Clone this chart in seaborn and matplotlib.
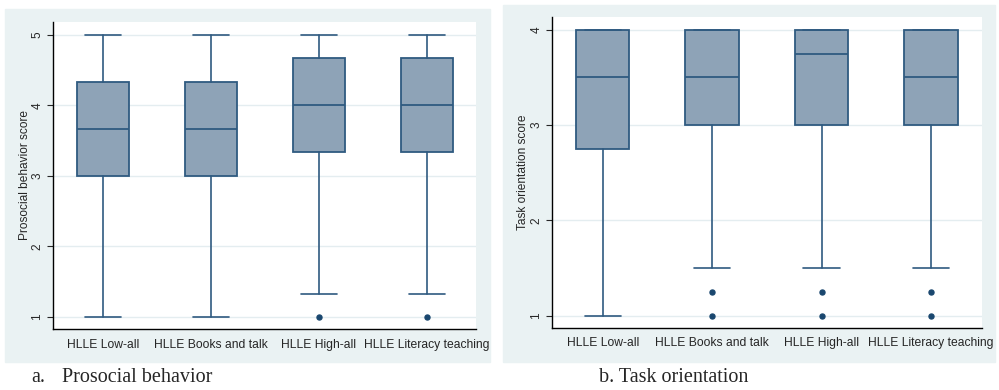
import matplotlib
matplotlib.use("Agg")
import matplotlib.pyplot as plt
from matplotlib.patches import Rectangle
import seaborn as sns

sns.set_style("white")
plt.rcParams["font.family"] = ["Liberation Sans", "DejaVu Sans"]

# groups shown on both panels
groups = ["HLLE Low-all", "HLLE Books and talk", "HLLE High-all", "HLLE Literacy teaching"]

# a. Prosocial behavior: five-number summaries per group, plus outliers
pro_low = [1.0, 1.0, 1.333, 1.333]
pro_q1 = [3.0, 3.0, 3.333, 3.333]
pro_med = [3.667, 3.667, 4.0, 4.0]
pro_q3 = [4.333, 4.333, 4.667, 4.667]
pro_high = [5.0, 5.0, 5.0, 5.0]
pro_out = [[], [], [1.0], [1.0]]

# b. Task orientation
task_low = [1.0, 1.5, 1.5, 1.5]
task_q1 = [2.75, 3.0, 3.0, 3.0]
task_med = [3.5, 3.5, 3.75, 3.5]
task_q3 = [4.0, 4.0, 4.0, 4.0]
task_high = [4.0, 4.0, 4.0, 4.0]
task_out = [[], [1.25, 1.0], [1.25, 1.0], [1.25, 1.0]]

navy = "#2f5a80"
fill = "#8ea3b7"
panel_bg = "#eaf2f3"
grid_c = "#e4edf0"


def make_stats(low, q1, med, q3, high, out):
    stats = []
    for i, g in enumerate(groups):
        stats.append({"label": g, "whislo": low[i], "q1": q1[i], "med": med[i],
                      "q3": q3[i], "whishi": high[i], "fliers": out[i]})
    return stats


W, H = 999, 390
fig = plt.figure(figsize=(W / 100, H / 100), dpi=100)

# light panel backgrounds (Stata style), behind the axes
fig.patches.append(Rectangle((5 / W, 1 - 362 / H), 485 / W, 353 / H,
                             transform=fig.transFigure, color=panel_bg, zorder=-10))
fig.patches.append(Rectangle((503 / W, 1 - 362 / H), 492 / W, 357 / H,
                             transform=fig.transFigure, color=panel_bg, zorder=-10))


def draw_panel(rect, stats, ylim, yticks, ylabel, xlim, label_x):
    ax = fig.add_axes(rect)
    ax.set_zorder(1)
    ax.set_facecolor("white")
    ax.bxp(stats, positions=[1, 2, 3, 4], widths=0.49, capwidths=0.33,
           patch_artist=True, showfliers=True,
           boxprops=dict(facecolor=fill, edgecolor=navy, linewidth=1.3),
           medianprops=dict(color=navy, linewidth=1.3),
           whiskerprops=dict(color=navy, linewidth=1.2),
           capprops=dict(color=navy, linewidth=1.2),
           flierprops=dict(marker="o", markerfacecolor="#1a476f",
                           markeredgecolor="#1a476f", markersize=3.6))
    for y in yticks:
        ax.axhline(y, color=grid_c, linewidth=1, zorder=0)
    ax.set_xlim(*xlim)
    ax.set_ylim(*ylim)
    ax.set_yticks(yticks)
    ax.set_yticklabels([str(t) for t in yticks], rotation=90, va="center", fontsize=8.5)
    ax.set_xticks([1, 2, 3, 4])
    ax.set_xticklabels(groups, fontsize=8.7)
    ax.tick_params(axis="x", length=0, pad=7)
    ax.tick_params(axis="y", length=4, width=0.8, direction="out", left=True, pad=3)
    ax.set_ylabel(ylabel, fontsize=8.6, va="center")
    ax.yaxis.set_label_coords(label_x, 0.5)
    for s in ["top", "right"]:
        ax.spines[s].set_visible(False)
    for s in ["left", "bottom"]:
        ax.spines[s].set_color("black")
        ax.spines[s].set_linewidth(1.0)
    return ax


draw_panel([53 / W, 1 - 329 / H, 423 / W, 307 / H],
           make_stats(pro_low, pro_q1, pro_med, pro_q3, pro_high, pro_out),
           (0.83, 5.18), [1, 2, 3, 4, 5], "Prosocial behavior score", (0.537, 4.454),
           (25 - 53) / 423)

draw_panel([552 / W, 1 - 327.7 / H, 430 / W, 310.4 / H],
           make_stats(task_low, task_q1, task_med, task_q3, task_high, task_out),
           (0.874, 4.13), [1, 2, 3, 4], "Task orientation score", (0.537, 4.466),
           (523 - 552) / 430)

cap_font = ["Liberation Serif", "DejaVu Serif"]
fig.text(31 / W, 1 - 378 / H, "a.", family=cap_font, fontsize=14.5, va="center")
fig.text(62 / W, 1 - 378 / H, "Prosocial behavior", family=cap_font, fontsize=14.5, va="center")
fig.text(599 / W, 1 - 378 / H, "b. Task orientation", family=cap_font, fontsize=14.5, va="center")

fig.savefig("out.png", dpi=100)
